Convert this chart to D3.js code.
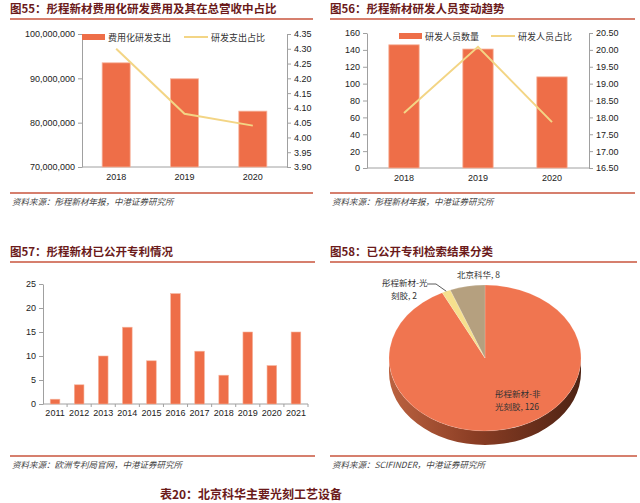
<!DOCTYPE html>
<html>
<head>
<meta charset="utf-8">
<title>彤程新材研发情况</title>
<script src="https://d3js.org/d3.v7.min.js"></script>
<style>
  body { margin: 0; background: #fff; }
  svg text { font-family: "Liberation Sans", Arial, sans-serif; }
  .title { font-family: "Noto Sans CJK SC", sans-serif; font-weight: bold; font-size: 11.5px; fill: #6b1a1a; }
  .source { font-family: "Noto Sans CJK SC", sans-serif; font-style: italic; font-size: 8.5px; fill: #444; }
  .legend { font-family: "Noto Sans CJK SC", sans-serif; font-size: 9px; fill: #333; }
  .axis text { font-size: 9px; fill: #222; }
  .axis path, .axis line { stroke: #a0a0a0; }
  .pielabel { font-family: "Noto Sans CJK SC", sans-serif; font-size: 8.5px; fill: #333; }
</style>
</head>
<body>
<div id="chart"></div>
<script>

// ---- data ----
var rdYears = ["2018", "2019", "2020"];
var rdExpense = [93500000, 89900000, 82600000];   // 费用化研发支出
var rdRatio = [4.30, 4.08, 4.04];                  // 研发支出占比

var staffYears = ["2018", "2019", "2020"];
var staffCount = [146, 141, 108];                  // 研发人员数量
var staffRatio = [18.13, 20.09, 17.86];            // 研发人员占比

var patentYears = ["2011", "2012", "2013", "2014", "2015", "2016", "2017", "2018", "2019", "2020", "2021"];
var patentCount = [1, 4, 10, 16, 9, 23, 11, 6, 15, 8, 15];

var pieNames = ["彤程新材-非光刻胶", "彤程新材-光刻胶", "北京科华"];
var pieValues = [126, 2, 8];
var pieLabels = [["彤程新材-非", "光刻胶, 126"], ["彤程新材-光", "刻胶, 2"], ["北京科华, 8"]];

var barColor = "#ee6e48", lineColor = "#f3d585", ruleColor = "#c8553d";

var svg = d3.select("#chart").append("svg")
    .attr("width", 640)
    .attr("height", 503);

// title + red rule, source + red rule
function block(x, x2, yTitle, title, yRule2, source) {
    svg.append("text").attr("class", "title").attr("x", x).attr("y", yTitle).text(title);
    svg.append("line").attr("x1", x).attr("x2", x2).attr("y1", yTitle + 6).attr("y2", yTitle + 6)
        .attr("stroke", ruleColor).attr("stroke-width", 1.5);
    svg.append("line").attr("x1", x).attr("x2", x2).attr("y1", yRule2).attr("y2", yRule2)
        .attr("stroke", ruleColor).attr("stroke-width", 1.5);
    svg.append("text").attr("class", "source").attr("x", x + 2).attr("y", yRule2 + 12).text(source);
}

block(10, 313, 13, "图55：彤程新材费用化研发费用及其在总营收中占比", 193, "资料来源：彤程新材年报，中港证券研究所");
block(330, 635, 13, "图56：彤程新材研发人员变动趋势", 193, "资料来源：彤程新材年报，中港证券研究所");
block(10, 315, 256, "图57：彤程新材已公开专利情况", 456, "资料来源：欧洲专利局官网，中港证券研究所");
block(330, 637, 256, "图58：已公开专利检索结果分类", 456, "资料来源：SCIFINDER，中港证券研究所");

svg.append("text").attr("class", "title").attr("x", 251).attr("y", 499)
    .attr("text-anchor", "middle").style("font-size", "12px").text("表20：北京科华主要光刻工艺设备");

// ---- combo chart (bars on left axis, line on right axis) ----
function combo(opt) {
    var x = d3.scaleBand().domain(opt.cats).range([opt.left, opt.right])
        .paddingInner(0.59).paddingOuter(0.295);
    var yL = d3.scaleLinear().domain(opt.leftDomain).range([opt.bottom, opt.top]);
    var yR = d3.scaleLinear().domain(opt.rightDomain).range([opt.bottom, opt.top]);

    svg.append("g").attr("class", "axis")
        .attr("transform", "translate(" + opt.left + ",0)")
        .call(d3.axisLeft(yL).tickValues(opt.leftTicks).tickFormat(opt.leftFormat).tickSize(4).tickSizeOuter(0));
    svg.append("g").attr("class", "axis")
        .attr("transform", "translate(" + opt.right + ",0)")
        .call(d3.axisRight(yR).tickValues(opt.rightTicks).tickFormat(d3.format(".2f")).tickSize(4).tickSizeOuter(0));
    var xa = svg.append("g").attr("class", "axis")
        .attr("transform", "translate(0," + opt.bottom + ")")
        .call(d3.axisBottom(x).tickSize(0).tickPadding(7));
    xa.select(".domain").attr("d", "M" + opt.left + ",0H" + opt.right);

    svg.append("g").selectAll("rect")
        .data(opt.bars)
        .enter()
        .append("rect")
        .attr("x", function (d, i) { return x(opt.cats[i]); })
        .attr("y", function (d) { return yL(d); })
        .attr("width", x.bandwidth())
        .attr("height", function (d) { return opt.bottom - yL(d); })
        .attr("fill", barColor)
        .attr("stroke", "#f6b39c")
        .attr("stroke-width", 0.8);

    svg.append("path")
        .datum(opt.line)
        .attr("fill", "none")
        .attr("stroke", lineColor)
        .attr("stroke-width", 2)
        .attr("d", d3.line()
            .x(function (d, i) { return x(opt.cats[i]) + x.bandwidth() / 2; })
            .y(function (d) { return yR(d); }));

    // legend
    var lg = svg.append("g").attr("transform", "translate(" + opt.legendX + "," + (opt.top + 3) + ")");
    lg.append("rect").attr("x", 0).attr("y", -3).attr("width", 23).attr("height", 6).attr("fill", barColor);
    lg.append("text").attr("class", "legend").attr("x", 26).attr("y", 3.5).text(opt.names[0]);
    lg.append("line").attr("x1", opt.legendGap).attr("x2", opt.legendGap + 24).attr("y1", 0).attr("y2", 0)
        .attr("stroke", lineColor).attr("stroke-width", 2);
    lg.append("text").attr("class", "legend").attr("x", opt.legendGap + 27).attr("y", 3.5).text(opt.names[1]);
}

combo({
    cats: rdYears, bars: rdExpense, line: rdRatio,
    left: 82, right: 287, top: 34, bottom: 167,
    leftDomain: [70000000, 100000000], leftTicks: [70000000, 80000000, 90000000, 100000000],
    leftFormat: d3.format(","),
    rightDomain: [3.90, 4.35], rightTicks: d3.range(0, 10).map(function (i) { return 3.90 + i * 0.05; }),
    names: ["费用化研发支出", "研发支出占比"], legendX: 82, legendGap: 102
});

combo({
    cats: staffYears, bars: staffCount, line: staffRatio,
    left: 367, right: 589, top: 33, bottom: 168,
    leftDomain: [0, 160], leftTicks: d3.range(0, 161, 20),
    leftFormat: d3.format("d"),
    rightDomain: [16.5, 20.5], rightTicks: d3.range(0, 9).map(function (i) { return 16.5 + i * 0.5; }),
    names: ["研发人员数量", "研发人员占比"], legendX: 399, legendGap: 92
});

// ---- patents bar chart ----
(function () {
    var left = 43, right = 308, top = 284, bottom = 404;
    var x = d3.scaleBand().domain(patentYears).range([left, right]).paddingInner(0.6).paddingOuter(0.3);
    var y = d3.scaleLinear().domain([0, 25]).range([bottom, top]);
    svg.append("g").attr("class", "axis")
        .attr("transform", "translate(" + left + ",0)")
        .call(d3.axisLeft(y).ticks(5).tickSize(4).tickSizeOuter(0));
    var xa = svg.append("g").attr("class", "axis")
        .attr("transform", "translate(0," + bottom + ")")
        .call(d3.axisBottom(x).tickSize(0).tickPadding(6));
    xa.select(".domain").attr("d", "M" + left + ",0H" + right);
    // category boundary ticks
    var xb = d3.scaleLinear().domain([0, patentYears.length]).range([left, right]);
    svg.append("g").selectAll("line")
        .data(d3.range(1, patentYears.length + 1))
        .enter()
        .append("line")
        .attr("x1", function (d) { return xb(d); })
        .attr("x2", function (d) { return xb(d); })
        .attr("y1", bottom).attr("y2", bottom + 3)
        .attr("stroke", "#a0a0a0");
    svg.append("g").selectAll("rect")
        .data(patentCount)
        .enter()
        .append("rect")
        .attr("x", function (d, i) { return x(patentYears[i]); })
        .attr("y", function (d) { return y(d); })
        .attr("width", x.bandwidth())
        .attr("height", function (d) { return bottom - y(d); })
        .attr("fill", barColor)
        .attr("stroke", "#f6b39c")
        .attr("stroke-width", 0.6);
})();

// ---- 3D-looking pie ----
(function () {
    var cx = 485, cy = 358, rx = 96, ry = 73, depth = 14;
    var colors = ["#f07550", "#f6e08e", "#b5a07f"];

    var defs = svg.append("defs");
    var grad = defs.append("linearGradient").attr("id", "side").attr("x1", "0").attr("x2", "1").attr("y1", "0").attr("y2", "0");
    grad.append("stop").attr("offset", "0").attr("stop-color", "#bb6240");
    grad.append("stop").attr("offset", "0.45").attr("stop-color", "#8a3d24");
    grad.append("stop").attr("offset", "1").attr("stop-color", "#4e2314");

    // side wall (front half, belongs to the big slice)
    svg.append("path")
        .attr("d", "M" + (cx - rx) + "," + cy +
            "A" + rx + "," + ry + " 0 0 0 " + (cx + rx) + "," + cy +
            "L" + (cx + rx) + "," + (cy + depth) +
            "A" + rx + "," + ry + " 0 0 1 " + (cx - rx) + "," + (cy + depth) + "Z")
        .attr("fill", "url(#side)");

    var pie = d3.pie().sort(null)(pieValues);
    var arc = d3.arc().innerRadius(0).outerRadius(rx);
    var g = svg.append("g").attr("transform", "translate(" + cx + "," + cy + ") scale(1," + (ry / rx) + ")");
    g.selectAll("path")
        .data(pie)
        .enter()
        .append("path")
        .attr("d", arc)
        .attr("fill", function (d, i) { return colors[i]; })
        .attr("stroke", "rgba(255,255,255,0.35)")
        .attr("stroke-width", 0.5);

    // labels, one text element per line
    var pos = [[495, 397], [382, 286], [457, 278]];
    pieLabels.forEach(function (lines, i) {
        lines.forEach(function (s, j) {
            svg.append("text").attr("class", "pielabel")
                .attr("x", pos[i][0] + (i === 1 && j === 1 ? 9 : 0))
                .attr("y", pos[i][1] + j * 12.5)
                .text(s);
        });
    });
    // leader line for the small slice
    var a = (pie[1].startAngle + pie[1].endAngle) / 2;
    var ex = cx + rx * Math.sin(a), ey = cy - ry * Math.cos(a);
    svg.append("polyline")
        .attr("points", "427,284 436,284 " + ex + "," + ey)
        .attr("fill", "none").attr("stroke", "#333").attr("stroke-width", 0.8);
})();

</script>
</body>
</html>
